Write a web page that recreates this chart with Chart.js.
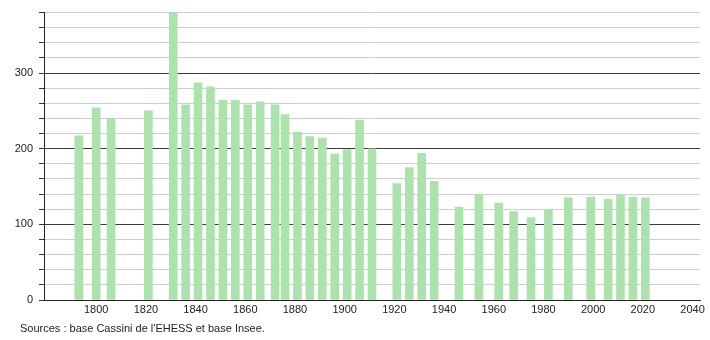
<!DOCTYPE html>
<html>
<head>
<meta charset="utf-8">
<script src="https://cdn.jsdelivr.net/npm/chart.js@4/dist/chart.umd.min.js"></script>
<style>
  body { margin: 0; background: #fff; }
  #wrap { position: relative; width: 710px; height: 340px; }
  #source { position: absolute; left: 20px; top: 322px; font: 11px "Liberation Sans", Arial, sans-serif; color: #222; }
</style>
</head>
<body>
<div id="wrap">
  <canvas id="chart" width="710" height="340"></canvas>
  <div id="source">Sources : base Cassini de l'EHESS et base Insee.</div>
</div>
<script>
// census years and population
const years = [1793, 1800, 1806, 1821, 1831, 1836, 1841, 1846, 1851, 1856, 1861, 1866, 1872, 1876,
  1881, 1886, 1891, 1896, 1901, 1906, 1911, 1921, 1926, 1931, 1936, 1946, 1954, 1962, 1968,
  1975, 1982, 1990, 1999, 2006, 2011, 2016, 2021];
const population = [217, 254, 240, 250, 385, 258, 287, 282, 264, 264, 258, 262, 258, 245,
  222, 216, 214, 193, 199, 238, 200, 154, 175, 194, 157, 123, 140, 128, 117,
  109, 120, 135, 136, 133, 139, 136, 135];
const xTicks = [1800, 1820, 1840, 1860, 1880, 1900, 1920, 1940, 1960, 1980, 2000, 2020, 2040];
const yTicks = [0, 20, 40, 60, 80, 100, 120, 140, 160, 180, 200, 220, 240, 260, 280, 300, 320, 340, 360, 380];

const font = { family: "'Liberation Sans', Arial, sans-serif", size: 11 };

new Chart(document.getElementById("chart"), {
  type: "bar",
  data: {
    datasets: [{
      data: years.map((y, i) => ({ x: y, y: population[i] })),
      backgroundColor: "rgb(172,226,172)",
      barThickness: 8
    }]
  },
  options: {
    responsive: false,
    animation: false,
    layout: { padding: { top: 10, right: 10, left: 0, bottom: 0 } },
    plugins: { legend: { display: false }, tooltip: { enabled: false } },
    scales: {
      x: {
        type: "linear",
        offset: false,
        min: 1779,
        max: 2043,
        afterBuildTicks: s => { s.ticks = xTicks.map(v => ({ value: v })); },
        afterFit: s => { s.height = 40; },
        grid: { display: false, drawTicks: false },
        border: { display: true, color: "#222", width: 1 },
        ticks: { font: font, color: "#222", padding: 3, maxRotation: 0, autoSkip: false, callback: v => String(v) }
      },
      y: {
        min: 0,
        max: 380,
        afterBuildTicks: s => { s.ticks = yTicks.map(v => ({ value: v })); },
        afterFit: s => { s.width = 44; },
        grid: {
          color: c => (c.tick && c.tick.value % 100 === 0) ? "rgb(60,60,60)" : "rgb(205,205,205)",
          tickColor: "#333",
          tickLength: 5
        },
        border: { display: true, color: "#222", width: 1 },
        ticks: {
          font: font, color: "#222", padding: 6, autoSkip: false,
          callback: v => (v % 100 === 0 ? String(v) : "")
        }
      }
    }
  }
});
</script>
</body>
</html>
